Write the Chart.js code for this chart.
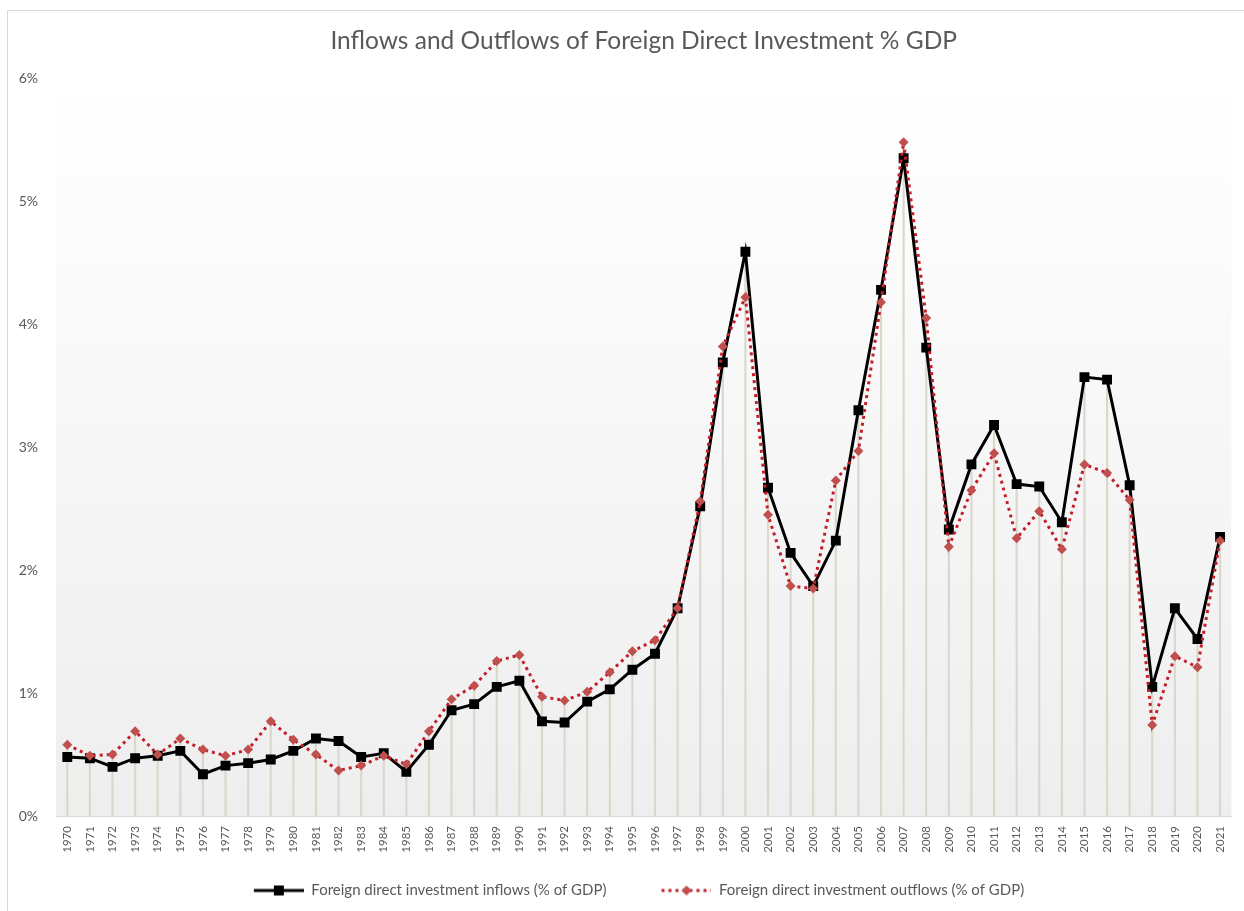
<!DOCTYPE html>
<html>
<head>
<meta charset="utf-8">
<title>Inflows and Outflows of Foreign Direct Investment % GDP</title>
<script src="https://cdn.jsdelivr.net/npm/chart.js@4.4.1/dist/chart.umd.min.js"></script>
<style>
  html, body { margin: 0; padding: 0; background: #fff; }
  canvas { display: block; }
</style>
</head>
<body>
<canvas id="fdiChart" width="1244" height="911"></canvas>
<script>
const years = [
  '1970', '1971', '1972', '1973', '1974', '1975', '1976', '1977', '1978', '1979',
  '1980', '1981', '1982', '1983', '1984', '1985', '1986', '1987', '1988', '1989',
  '1990', '1991', '1992', '1993', '1994', '1995', '1996', '1997', '1998', '1999',
  '2000', '2001', '2002', '2003', '2004', '2005', '2006', '2007', '2008', '2009',
  '2010', '2011', '2012', '2013', '2014', '2015', '2016', '2017', '2018', '2019',
  '2020', '2021'
];

// % of GDP
const inflows = [
  0.48, 0.47, 0.40, 0.47, 0.49, 0.53, 0.34, 0.41, 0.43, 0.46,
  0.53, 0.63, 0.61, 0.48, 0.51, 0.36, 0.58, 0.86, 0.91, 1.05,
  1.10, 0.77, 0.76, 0.93, 1.03, 1.19, 1.32, 1.69, 2.52, 3.69,
  4.59, 2.67, 2.14, 1.87, 2.24, 3.30, 4.28, 5.35, 3.81, 2.33,
  2.86, 3.18, 2.70, 2.68, 2.39, 3.57, 3.55, 2.69, 1.05, 1.69,
  1.44, 2.27
];

const outflows = [
  0.58, 0.49, 0.50, 0.69, 0.50, 0.63, 0.54, 0.49, 0.54, 0.77,
  0.62, 0.50, 0.37, 0.41, 0.49, 0.42, 0.69, 0.95, 1.06, 1.26,
  1.31, 0.97, 0.94, 1.01, 1.17, 1.34, 1.43, 1.69, 2.56, 3.82,
  4.22, 2.45, 1.87, 1.85, 2.73, 2.97, 4.18, 5.48, 4.05, 2.19,
  2.65, 2.95, 2.26, 2.48, 2.17, 2.86, 2.79, 2.57, 0.74, 1.30,
  1.21, 2.24
];

const yTicks = [0, 1, 2, 3, 4, 5, 6];

// drop lines go from the axis up to the higher of the two points
const dropLines = inflows.map((v, i) => Math.max(v, outflows[i]));

const textGrey = '#595959';
const redDots = '#c41e2a';
const redMarker = '#c0504d';

// legend swatch: transparent margin on the left, then line + marker
function legendIcon(kind) {
  const c = document.createElement('canvas');
  c.width = 95;
  c.height = 14;
  const g = c.getContext('2d');
  const x0 = 45;
  if (kind === 'in') {
    g.strokeStyle = '#000';
    g.lineWidth = 3;
    g.beginPath(); g.moveTo(x0, 7); g.lineTo(x0 + 50, 7); g.stroke();
    g.fillStyle = '#000';
    g.fillRect(x0 + 20, 2, 10, 10);
  } else {
    g.strokeStyle = redDots;
    g.lineWidth = 3;
    g.setLineDash([3, 4]);
    g.beginPath(); g.moveTo(x0, 7); g.lineTo(x0 + 50, 7); g.stroke();
    g.fillStyle = redMarker;
    g.beginPath();
    g.moveTo(x0 + 20, 7); g.lineTo(x0 + 25, 2); g.lineTo(x0 + 30, 7); g.lineTo(x0 + 25, 12);
    g.closePath(); g.fill();
  }
  return c;
}

const plotBackground = {
  id: 'plotBackground',
  beforeDraw(chart) {
    const {ctx, chartArea: a} = chart;
    ctx.save();
    ctx.fillStyle = '#fff';
    ctx.fillRect(0, 0, chart.width, chart.height);
    ctx.strokeStyle = '#d9d9d9';
    ctx.lineWidth = 1;
    ctx.strokeRect(7.5, 10.5, chart.width + 10, chart.height + 10);
    const grad = ctx.createLinearGradient(0, a.top, 0, a.bottom);
    grad.addColorStop(0, '#ffffff');
    grad.addColorStop(1, '#eeeeee');
    ctx.fillStyle = grad;
    ctx.fillRect(a.left, a.top, a.right - a.left, a.bottom - a.top);
    ctx.restore();
  }
};

new Chart(document.getElementById('fdiChart'), {
  data: {
    labels: years,
    datasets: [
      {
        type: 'line',
        label: 'Foreign direct investment inflows (% of GDP)',
        data: inflows,
        borderColor: '#000',
        backgroundColor: '#000',
        borderWidth: 3,
        tension: 0,
        pointStyle: 'rect',
        pointRadius: 7,
        pointBorderWidth: 0,
        order: 1
      },
      {
        type: 'line',
        label: 'Foreign direct investment outflows (% of GDP)',
        data: outflows,
        borderColor: redDots,
        backgroundColor: redMarker,
        borderWidth: 3,
        borderDash: [3, 4],
        tension: 0,
        pointStyle: 'rectRot',
        pointRadius: 5,
        pointBorderWidth: 0,
        order: 0
      },
      {
        type: 'bar',
        label: 'drop',
        data: dropLines,
        backgroundColor: '#dcd7cb',
        barThickness: 1.5,
        order: 2
      }
    ]
  },
  options: {
    responsive: false,
    animation: false,
    devicePixelRatio: 1,
    layout: {
      padding: {left: 0, right: 11, top: 0, bottom: 3}
    },
    scales: {
      x: {
        type: 'category',
        offset: true,
        grid: {display: false, drawTicks: false},
        border: {display: true, color: '#d9d9d9', width: 1},
        ticks: {
          autoSkip: false,
          maxRotation: 90,
          minRotation: 90,
          padding: 10,
          color: textGrey,
          font: {family: 'Lato', size: 11.5}
        },
        afterFit(scale) { scale.height = 57; }
      },
      y: {
        min: 0,
        max: 6,
        grid: {display: false, drawTicks: false},
        border: {display: false},
        afterBuildTicks(scale) { scale.ticks = yTicks.map(v => ({value: v})); },
        ticks: {
          padding: 18,
          color: textGrey,
          font: {family: 'Lato', size: 14},
          callback: v => v + '%'
        },
        afterFit(scale) { scale.width = 56; }
      }
    },
    plugins: {
      title: {
        display: true,
        fullSize: false,
        text: 'Inflows and Outflows of Foreign Direct Investment % GDP',
        color: textGrey,
        font: {family: 'Lato', size: 24.5, weight: 'normal'},
        padding: {top: 26, bottom: 23}
      },
      legend: {
        position: 'bottom',
        labels: {
          usePointStyle: true,
          pointStyleWidth: 95,
          boxHeight: 14,
          padding: 10,
          color: textGrey,
          font: {family: 'Lato', size: 15},
          generateLabels(chart) {
            return chart.data.datasets.slice(0, 2).map((ds, i) => ({
              text: ds.label,
              pointStyle: legendIcon(i === 0 ? 'in' : 'out'),
              fillStyle: 'transparent',
              strokeStyle: 'transparent',
              lineWidth: 0,
              fontColor: textGrey,
              hidden: false,
              datasetIndex: i
            }));
          }
        }
      },
      tooltip: {enabled: false}
    }
  },
  plugins: [plotBackground]
});
</script>
</body>
</html>
